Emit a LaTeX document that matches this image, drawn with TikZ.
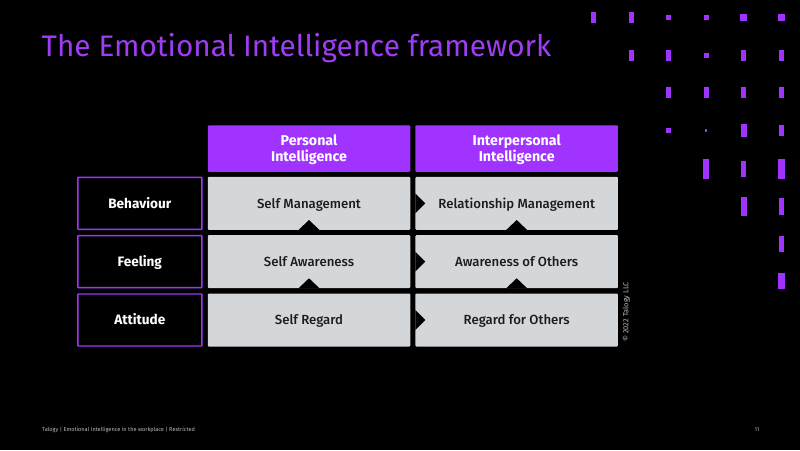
\documentclass[tikz,border=0pt]{standalone}
\usepackage{fontspec}
\setmainfont{Fira Sans}
\newfontfamily\medfont{Fira Sans Medium}
\definecolor{talogy}{HTML}{A033FF}
\definecolor{titlecol}{HTML}{9E3DF2}
\definecolor{cellgrey}{HTML}{D4D7DA}
\definecolor{celltext}{HTML}{1A1C1E}
\newcommand{\headline}[1]{\raisebox{-1pt}[\height][\depth]{#1}}
\tikzset{
	box/.style={minimum width=202.5pt, minimum height=53pt, inner sep=0pt, rounded corners=1pt, align=center},
	headbox/.style={box, fill=talogy, minimum height=46.5pt, text=white, font=\fontsize{14.2}{16}\selectfont\bfseries},
	cellbox/.style={box, fill=cellgrey, text=celltext, text height=12pt, text depth=2.5pt, font=\fontsize{13.2}{16}\medfont\selectfont},
	rowbox/.style={box, draw=talogy, line width=1.4pt, minimum width=124pt, minimum height=52pt, rounded corners=0.5pt, text=white, text height=12pt, text depth=2.5pt, font=\fontsize{13.6}{16}\selectfont\bfseries},
	notch/.style={fill=black},
	small/.style={text=white!72!black, inner sep=0pt, font=\fontsize{5.6}{7}\selectfont}
}
\begin{document}
\begin{tikzpicture}[x=1pt, y=-1pt]

\fill[black] (0,0) rectangle (800,450);
\useasboundingbox (0,0) rectangle (800,450);

\node[anchor=west, inner sep=0pt, text=titlecol, font=\fontsize{29.7}{36}\selectfont] (title) at (41.5,48.5) {The Emotional Intelligence framework};

% dots, top right
\foreach \x/\y/\w/\h in {
	593.5/17.5/5/11, 631.5/17.5/5/11, 668.5/17.5/5/5, 706.5/17.5/5/5, 743.5/17.5/7/7, 781.5/17.5/7/7,
	631.5/55/5/11, 668.5/55/5/11, 706.5/55/5/5, 743.5/55/5/11, 781.5/55/5/11,
	668.5/92.5/5/11, 706.5/92.5/5/11, 743.5/92.5/5/11, 781.5/92.5/5/11,
	668.5/130.5/5/5, 706/130.5/2.4/2.4, 743.5/130.5/6/13, 781.5/130.5/5/11,
	706/169/6/20, 743.5/169/5/16, 781.5/169/7/20,
	743.5/206.5/6/19, 781.5/206.5/5/17,
	781.5/244/5/16,
	781.5/281/7/16}
{
	\fill[talogy] (\x - \w/2, \y - \h/2) rectangle (\x + \w/2, \y + \h/2);
}

% column heads
\node[headbox] (personal) at (309,148.5) {\headline{Personal}\\\headline{Intelligence}};
\node[headbox] (inter) at (516.7,148.5) {\headline{Interpersonal}\\\headline{Intelligence}};

% row labels
\node[rowbox] (behaviour) at (139.8,203.3) {Behaviour};
\node[rowbox] (feeling) at (139.8,261.6) {Feeling};
\node[rowbox] (attitude) at (139.8,320) {Attitude};

% cells
\node[cellbox] (selfman) at (309,203.3) {Self Management};
\node[cellbox] (selfaw) at (309,261.6) {Self Awareness};
\node[cellbox] (selfreg) at (309,320) {Self Regard};
\node[cellbox] (relman) at (516.7,203.3) {Relationship Management};
\node[cellbox] (othaw) at (516.7,261.6) {Awareness of Others};
\node[cellbox] (othreg) at (516.7,320) {Regard for Others};

% notches up
\foreach \c in {selfman, selfaw, relman, othaw}
{
	\fill[notch] ([xshift=-10.5pt]\c.south) -- ([yshift=10pt]\c.south) -- ([xshift=10.5pt]\c.south) -- cycle;
}

% notches right
\foreach \c in {relman, othaw, othreg}
{
	\fill[notch] ([yshift=-10pt]\c.west) -- ([xshift=10pt]\c.west) -- ([yshift=10pt]\c.west) -- cycle;
}

\node[small, rotate=90, font=\fontsize{7.4}{8}\selectfont] (copy) at (626.5,312) {© 2022 Talogy LLC};

\node[small, anchor=west] (footer) at (42,430) {Talogy | Emotional Intelligence in the workplace | Restricted};
\node[small] (page) at (757,430) {11};

\end{tikzpicture}
\end{document}
